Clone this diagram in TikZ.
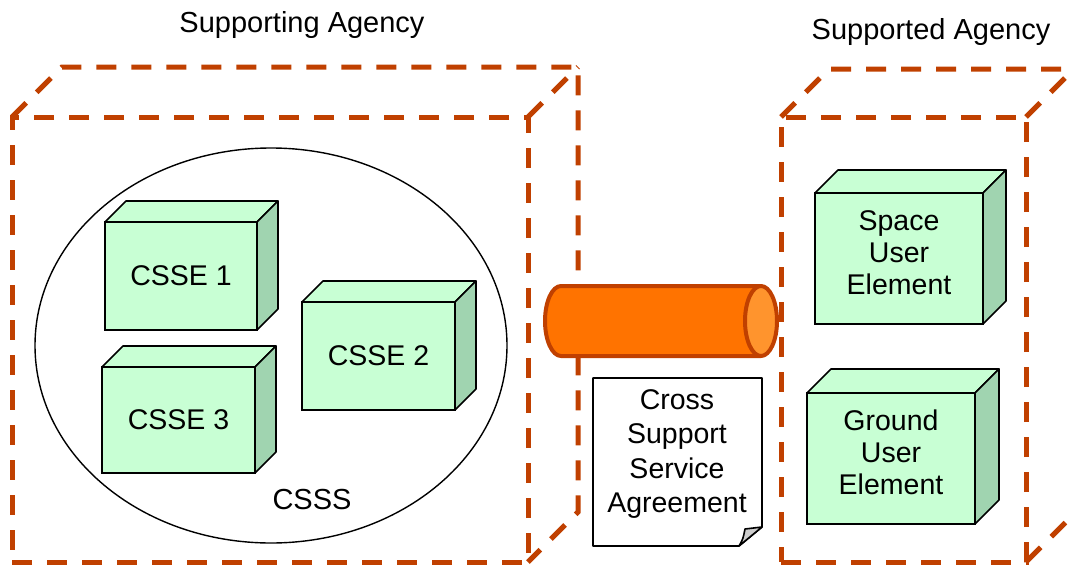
\documentclass[tikz,border=0pt]{standalone}
\usepackage{fontspec}
\setmainfont{Liberation Sans}
\usetikzlibrary{shapes.geometric}
\definecolor{frame}{RGB}{192,64,0}
\definecolor{mint}{RGB}{200,255,212}
\definecolor{mintside}{RGB}{160,212,176}
\definecolor{pipe}{RGB}{255,115,0}
\definecolor{pipeend}{RGB}{255,148,45}
\definecolor{curl}{RGB}{205,205,205}

% front face is a node; top and right faces hang off its corners
\newcommand\boxfaces[2]{%
  \draw[cubeface] (#1.north west) -- ++(#2,-#2) -- ([shift={(#2,-#2)}]#1.north east) -- (#1.north east) -- cycle;
  \draw[cubeface, fill=mintside] (#1.north east) -- ++(#2,-#2) -- ([shift={(#2,-#2)}]#1.south east) -- (#1.south east) -- cycle;
}

\begin{document}
\begin{tikzpicture}[x=1pt, y=-1pt,
  agency/.style={draw=frame, line width=5pt, dash pattern=on 20pt off 15pt},
  agencybox/.style={agency, inner sep=0pt, outer sep=0pt},
  title/.style={font=\fontsize{29}{34}\selectfont},
  cubefront/.style={draw, line width=1.6pt, fill=mint, inner sep=0pt, outer sep=0pt,
    align=center, font=\fontsize{28.5}{31}\selectfont},
  cubeface/.style={draw, line width=1.6pt, fill=mint, line join=round},
  cubetext/.style={align=center, font=\fontsize{28.5}{32}\selectfont, yshift=6pt},
  pipeline/.style={draw=frame, line width=4pt, line join=round},
  docline/.style={draw, line width=1.6pt, line join=round}]
\useasboundingbox (0,0) rectangle (1071,565);

% agency frames
\node[title] (tsupporting) at (302,25) {Supporting Agency};
\node[title] (tsupported) at (931,32) {Supported Agency};

\node[agencybox, minimum width=516pt, minimum height=445pt] (supporting) at (270,339.5) {};
\draw[agency] (supporting.north west) -- ++(50,-50) -- ([shift={(50,-50)}]supporting.north east)
  -- ([shift={(50,-50)}]supporting.south east) -- (supporting.south east);
\draw[agency] (supporting.north east) -- ++(50,-50);

\node[agencybox, minimum width=245pt, minimum height=445pt] (supported) at (903.5,339.5) {};
\draw[agency] (supported.north west) -- ++(48,-48) -- ([shift={(48,-48)}]supported.north east)
  -- ([shift={(48,-48)}]supported.south east) -- (supported.south east);
\draw[agency] (supported.north east) -- ++(48,-48);

% cross support service system
\node[draw, ellipse, line width=1.4pt, minimum width=472pt, minimum height=395pt] (csss) at (271,345.5) {};
\node[title] (cssslabel) at (312,500) {CSSS};

\node[cubefront, minimum width=152pt, minimum height=108pt] (csse1) at (181,276) {CSSE 1};
\boxfaces{csse1}{21}
\node[cubefront, minimum width=153pt, minimum height=108pt] (csse2) at (378.5,356) {CSSE 2};
\boxfaces{csse2}{21}
\node[cubefront, minimum width=153pt, minimum height=106pt] (csse3) at (178.5,420) {CSSE 3};
\boxfaces{csse3}{21}

% user elements
\node[cubefront, minimum width=168pt, minimum height=131pt,
  label={[cubetext]center:{Space\\User\\Element}}] (space) at (899,258.5) {};
\boxfaces{space}{23}
\node[cubefront, minimum width=168pt, minimum height=131pt,
  label={[cubetext]center:{Ground\\User\\Element}}] (ground) at (891,458.5) {};
\boxfaces{ground}{24}

% service link
\coordinate (pipeL) at (561,321);
\coordinate (pipeR) at (761,321);
\draw[pipeline, fill=pipe] ([yshift=35pt]pipeR) -- ([yshift=35pt]pipeL)
  arc[start angle=90, end angle=270, x radius=16pt, y radius=35pt]
  -- ([yshift=-35pt]pipeR) -- cycle;
\draw[pipeline, fill=pipeend] (pipeR) ellipse[x radius=16pt, y radius=35pt];

% agreement document with curled corner
\coordinate (doc) at (677,454);
\draw[docline, fill=white] ([shift={(-84,-76)}]doc) -- ([shift={(85,-76)}]doc)
  -- ([shift={(85,73)}]doc) -- ([shift={(62,92)}]doc)
  -- ([shift={(-84,92)}]doc) -- cycle;
\draw[docline, fill=curl] ([shift={(62,92)}]doc)
  .. controls ([shift={(66,85)}]doc) .. ([shift={(68,75)}]doc)
  -- ([shift={(85,73)}]doc) -- cycle;
\node[align=center, font=\fontsize{28.5}{34.3}\selectfont, inner sep=0pt] (csa) at (doc)
  {Cross\\Support\\Service\\Agreement};
\end{tikzpicture}
\end{document}
